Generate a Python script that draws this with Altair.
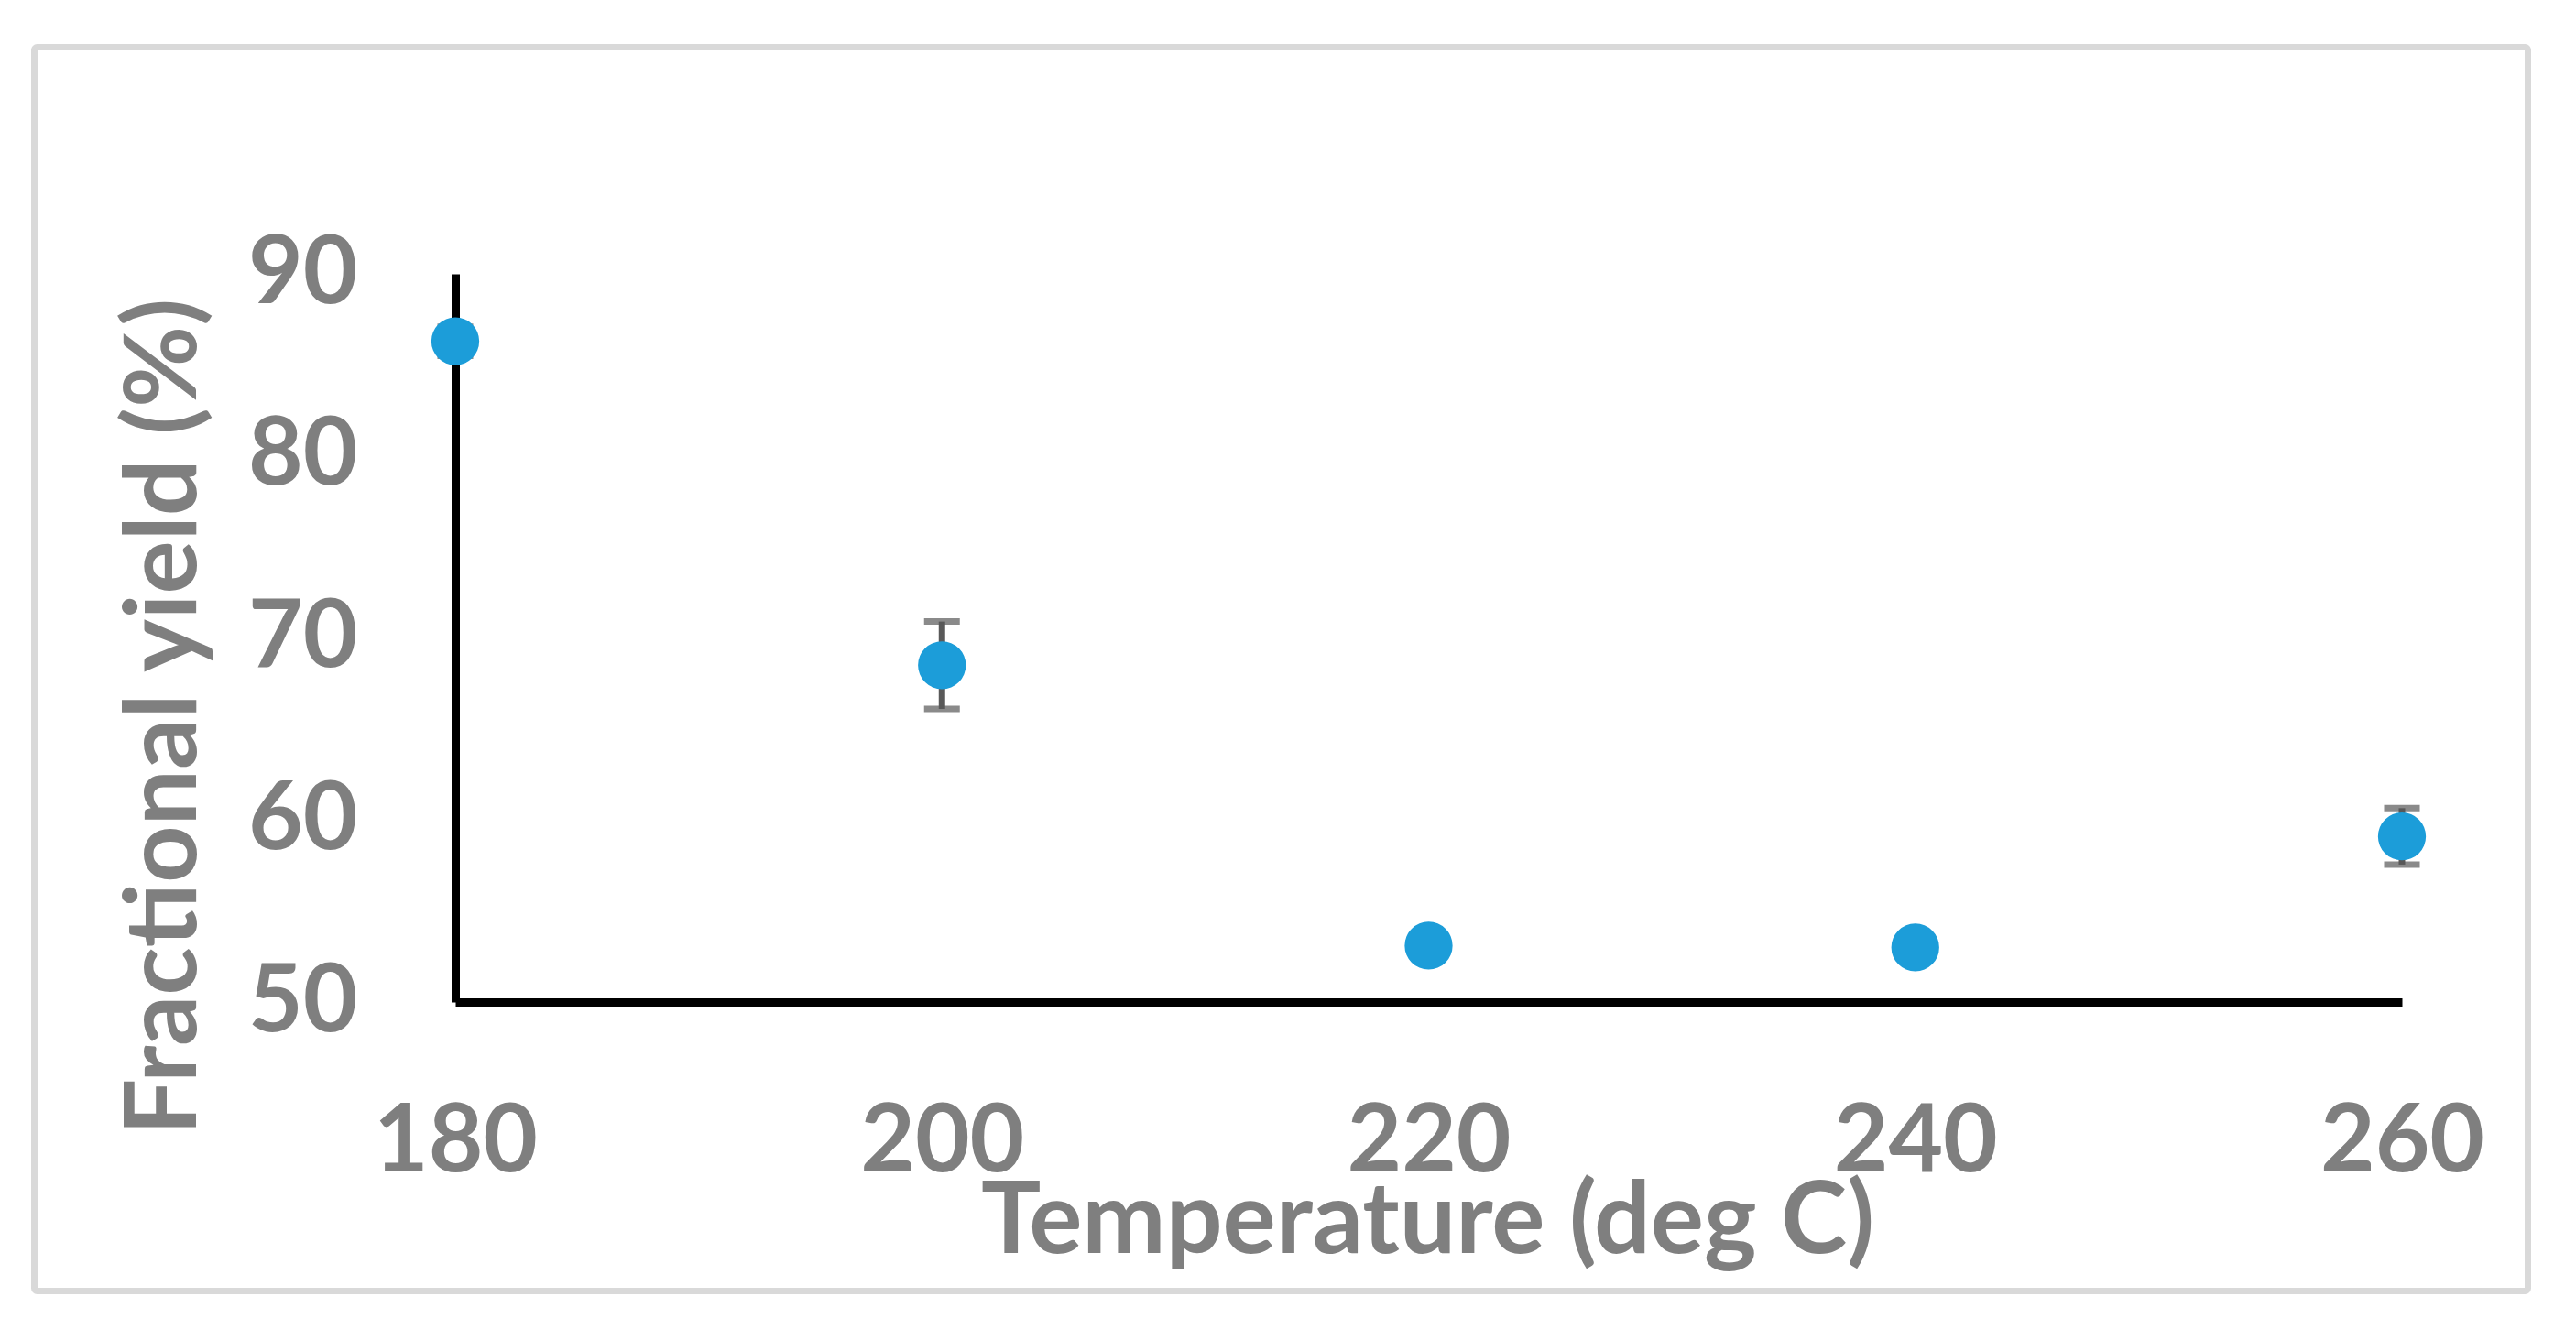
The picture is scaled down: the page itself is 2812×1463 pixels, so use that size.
import altair as alt
import pandas as pd

# Data
temps = [180, 200, 220, 240, 260]
yields = [86.3, 68.5, 53.1, 53.0, 59.1]
errors = [0.8, 2.4, 0.5, 0.5, 1.55]
x_ticks = [180, 200, 220, 240, 260]
y_ticks = [50, 60, 70, 80, 90]

df = pd.DataFrame({"temp": temps, "yield": yields, "err": errors})
df["lo"] = df["yield"] - df["err"]
df["hi"] = df["yield"] + df["err"]

FONT = "Lato"
GRAY = "#7f7f7f"
FS = 103
TFS = 109

xscale = alt.Scale(domain=[180, 260], nice=False, zero=False)
yscale = alt.Scale(domain=[50, 90], nice=False, zero=False)

xaxis = alt.Axis(
    values=x_ticks, title="Temperature (deg C)", grid=False, ticks=False, tickSize=0,
    domainColor="black", domainWidth=9, labelFont=FONT, labelFontSize=FS,
    labelFontWeight="bold", labelColor=GRAY, labelPadding=103, labelFlush=False,
    labelOverlap=False, labelBound=False,
    titleFont=FONT, titleFontSize=TFS, titleFontWeight="bold", titleColor=GRAY,
    titleX=1061, titleY=273, titleAlign="center", titleBaseline="alphabetic",
)
yaxis = alt.Axis(
    values=y_ticks, title="Fractional yield (%)", grid=False, ticks=False, tickSize=0,
    domainColor="black", domainWidth=9, labelFont=FONT, labelFontSize=FS,
    labelFontWeight="bold", labelColor=GRAY, labelPadding=107, labelFlush=False,
    labelOverlap=False, labelBound=False,
    titleFont=FONT, titleFontSize=TFS, titleFontWeight="bold", titleColor=GRAY,
    titleAngle=270, titleX=-284, titleY=483, titleAlign="center", titleBaseline="alphabetic",
)

frame = alt.Chart(pd.DataFrame({"a": [0]})).mark_rect(
    fillOpacity=0, stroke="#d9d9d9", strokeWidth=7, cornerRadius=3
).encode(
    x=alt.value(-459.5), x2=alt.value(2262.5), y=alt.value(-247.5), y2=alt.value(1110.5)
)

base = alt.Chart(df)

stem = base.mark_rule(color="#595959", strokeWidth=7).encode(
    x=alt.X("temp:Q", scale=xscale, axis=xaxis),
    y=alt.Y("lo:Q", scale=yscale, axis=yaxis),
    y2="hi:Q",
)
cap_lo = base.mark_tick(orient="horizontal", size=39, thickness=7, color="#595959").encode(
    x=alt.X("temp:Q", scale=xscale, axis=xaxis),
    y=alt.Y("lo:Q", scale=yscale, axis=yaxis),
)
cap_hi = base.mark_tick(orient="horizontal", size=39, thickness=7, color="#595959").encode(
    x=alt.X("temp:Q", scale=xscale, axis=xaxis),
    y=alt.Y("hi:Q", scale=yscale, axis=yaxis),
)
points = base.mark_circle(size=2734, color="#1c9dd9", opacity=1).encode(
    x=alt.X("temp:Q", scale=xscale, axis=xaxis),
    y=alt.Y("yield:Q", scale=yscale, axis=yaxis),
)

chart = alt.layer(frame, stem, cap_lo, cap_hi, points).properties(
    width=2125, height=795,
    padding={"left": 489, "top": 291, "right": 170, "bottom": 340},
    autosize=alt.AutoSizeParams(type="none"),
    background="white",
).configure_view(strokeWidth=0, stroke="transparent")

chart.save("out.html", embed_options={"renderer": "svg", "actions": False})
